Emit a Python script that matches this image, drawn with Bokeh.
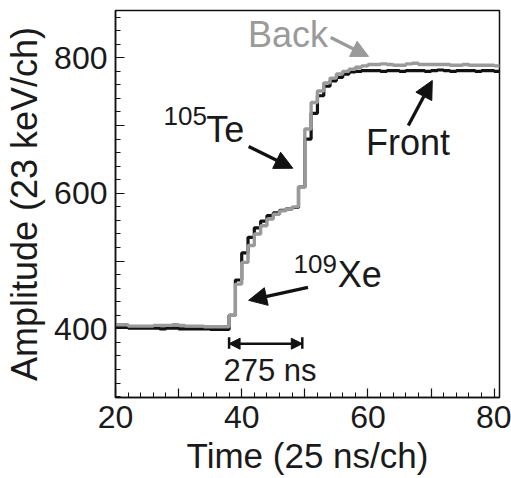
from bokeh.plotting import figure
from bokeh.models import (Range1d, FixedTicker, Label, Arrow, NormalHead)
from bokeh.embed import file_html
from bokeh.resources import INLINE

# ---- data ----
channel = list(range(20, 82))
back = [406, 406, 404, 404, 404, 404, 405, 405, 405, 406, 405, 404, 404, 404, 403, 403, 403, 403,
        420, 466, 498, 523, 540, 552, 562, 569, 574, 577, 580, 609,
        695, 734, 751, 763, 770, 776, 780, 783, 786, 788,
        790, 790, 791, 790, 789, 789, 791, 792, 790, 790, 790, 790, 790, 789, 789, 790, 789, 789,
        789, 789, 788, 788]
front = [402, 402, 401, 401, 401, 401, 401, 400, 401, 401, 400, 400, 400, 400, 400, 399, 399, 399,
         420, 472, 512, 535, 549, 559, 567, 571, 575, 577, 579, 609,
         680, 718, 744, 758, 766, 771, 776, 779, 780, 781,
         781, 781, 780, 781, 781, 780, 781, 781, 781, 780, 781, 782, 781, 780, 781, 781, 781, 780,
         781, 781, 780, 781]

x_major = [20, 30, 40, 50, 60, 70, 80]
x_labels = {30: "", 50: "", 70: ""}
y_major = [400, 500, 600, 700, 800]
y_labels = {500: "", 700: ""}
x_minor = list(range(20, 82, 2))
y_minor = list(range(300, 880, 20))

FONT = "Liberation Sans"

p = figure(frame_width=384, frame_height=387,
           min_border_left=115, min_border_right=12, min_border_top=10, min_border_bottom=81,
           x_range=Range1d(20.0, 80.85), y_range=Range1d(298.6, 869.8),
           output_backend="svg", toolbar_location=None,
           background_fill_color="white", border_fill_color="white")
p.grid.visible = False
p.outline_line_color = "#111111"
p.outline_line_width = 1.5

p.xaxis.ticker = FixedTicker(ticks=x_major, minor_ticks=x_minor)
p.yaxis.ticker = FixedTicker(ticks=y_major, minor_ticks=y_minor)
p.xaxis.major_label_overrides = x_labels
p.yaxis.major_label_overrides = y_labels

for ax in (p.xaxis[0], p.yaxis[0]):
    ax.axis_line_color = "#111111"
    ax.axis_line_width = 1.5
    ax.major_tick_in = 9
    ax.major_tick_out = 0
    ax.minor_tick_in = 5
    ax.minor_tick_out = 0
    ax.major_tick_line_width = 1.2
    ax.minor_tick_line_width = 1.0
    ax.major_tick_line_color = "#111111"
    ax.minor_tick_line_color = "#111111"
    ax.major_label_text_font = FONT
    ax.major_label_text_font_size = "32px"
    ax.major_label_text_color = "#1a1a1a"
    ax.axis_label_text_font = FONT
    ax.axis_label_text_font_style = "normal"
    ax.axis_label_text_color = "#1a1a1a"

p.xaxis.axis_label = "Time (25 ns/ch)"
p.xaxis.axis_label_text_font_size = "35px"
p.xaxis.major_label_standoff = 8
p.xaxis.axis_label_standoff = 5
p.yaxis.axis_label = "Amplitude (23 keV/ch)"
p.yaxis.axis_label_text_font_size = "36px"
p.yaxis.major_label_standoff = 8
p.yaxis.axis_label_standoff = 6

# traces
p.step(channel, front, mode="after", line_color="#111111", line_width=3.2)
p.step(channel, back, mode="after", line_color="#9a9a9a", line_width=3.4)

# annotations
def lab(x, y, text, size, color="#1a1a1a", align="left"):
    p.add_layout(Label(x=x, y=y, text=text, text_font=FONT, text_font_size=size,
                       text_color=color, text_align=align, text_baseline="alphabetic"))

lab(41.0, 834, "Back", "36px", color="#9a9a9a")
lab(59.7, 675, "Front", "36px")
lab(27.6, 714, "105", "26px")
lab(34.4, 694, "Te", "36px")
lab(48.2, 495, "109", "26px")
lab(55.2, 480, "Xe", "36px")
lab(44.48, 339, "275 ns", "31px", align="center")

def arrow(x0, y0, x1, y1, color="#111111", size=18, width=3.3):
    p.add_layout(Arrow(x_start=x0, y_start=y0, x_end=x1, y_end=y1,
                       line_color=color, line_width=width,
                       end=NormalHead(size=size, fill_color=color, line_color=color, line_width=1)))

arrow(54.1, 830, 60.1, 802, color="#9a9a9a", size=17)
arrow(66.4, 700, 70.2, 766.5)
arrow(41.1, 669, 48.1, 637)
arrow(50.5, 461, 41.1, 442)

# 275 ns bracket
p.add_layout(Arrow(x_start=38.0, y_start=378, x_end=49.6, y_end=378,
                   line_color="#111111", line_width=2.5,
                   start=NormalHead(size=11, fill_color="#111111", line_color="#111111", line_width=1),
                   end=NormalHead(size=11, fill_color="#111111", line_color="#111111", line_width=1)))
p.segment(x0=[38.0, 49.6], y0=[370.5, 370.5], x1=[38.0, 49.6], y1=[387.6, 387.6],
          line_color="#111111", line_width=2.5)

open("out.html", "w").write(file_html(p, INLINE))
